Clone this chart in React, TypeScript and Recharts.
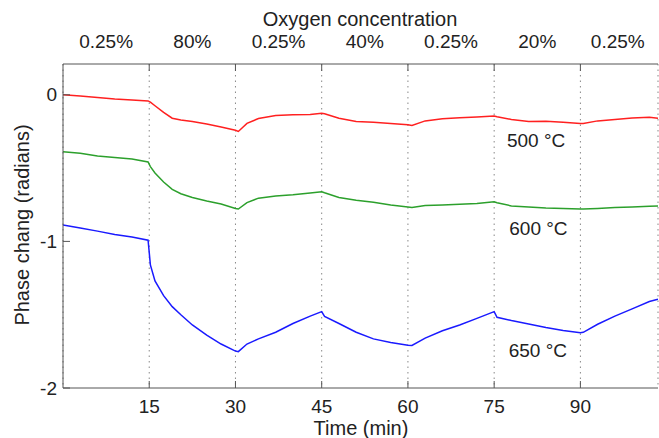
import { LineChart, Line, XAxis, YAxis, CartesianGrid, ReferenceDot } from 'recharts';

// time axis (min)
const times = [
  0, 3, 6, 9, 12, 14.8, 15.2, 16, 17.5, 19, 20.5, 22.5, 25, 27.5, 30, 30.5, 32, 34, 37, 40, 43, 45, 45.5,
  48, 51, 54, 57, 60, 60.7, 63, 66, 69, 72, 75, 75.5, 78, 81, 84, 87, 90, 90.5, 93, 96, 99, 102, 103.5,
];

// phase change (radians) for each temperature
const phase500 = [
  0.0, -0.008, -0.018, -0.028, -0.035, -0.042, -0.05, -0.075, -0.12, -0.16, -0.172, -0.183, -0.2, -0.22, -0.242,
  -0.25, -0.195, -0.162, -0.142, -0.137, -0.135, -0.126, -0.13, -0.16, -0.182, -0.188, -0.196, -0.205, -0.21,
  -0.178, -0.163, -0.157, -0.152, -0.145, -0.15, -0.168, -0.183, -0.18, -0.188, -0.195, -0.195, -0.178, -0.168,
  -0.158, -0.154, -0.16,
];
const phase600 = [
  -0.388, -0.398, -0.418, -0.428, -0.438, -0.458, -0.49, -0.533, -0.595, -0.645, -0.675, -0.7, -0.725, -0.745,
  -0.775, -0.779, -0.735, -0.705, -0.69, -0.682, -0.67, -0.661, -0.668, -0.7, -0.72, -0.733, -0.752, -0.765,
  -0.768, -0.755, -0.752, -0.747, -0.742, -0.73, -0.736, -0.758, -0.765, -0.772, -0.776, -0.779, -0.779, -0.775,
  -0.768, -0.765, -0.76, -0.759,
];
const phase650 = [
  -0.888, -0.908, -0.93, -0.953, -0.97, -0.992, -1.16, -1.27, -1.37, -1.445, -1.5, -1.57, -1.64, -1.7, -1.748,
  -1.752, -1.7, -1.665, -1.62, -1.56, -1.51, -1.479, -1.512, -1.56, -1.62, -1.665, -1.69, -1.708, -1.71, -1.66,
  -1.61, -1.57, -1.525, -1.479, -1.518, -1.54, -1.563, -1.588, -1.608, -1.623, -1.62, -1.565, -1.51, -1.46,
  -1.41, -1.395,
];

const switchTimes = [15, 30, 45, 60, 75, 90];
const concLabels = ['0.25%', '80%', '0.25%', '40%', '0.25%', '20%', '0.25%'];
const concCenters = [7.5, 22.5, 37.5, 52.5, 67.5, 82.5, 96.5];
const yTicks = [0, -1, -2];

const tempLabels = ['500 °C', '600 °C', '650 °C'];
const tempLabelX = [82.3, 82.7, 82.6];
const tempLabelY = [-0.31, -0.91, -1.74];

const data = times.map((t, i) => ({
  t,
  p500: phase500[i],
  p600: phase600[i],
  p650: phase650[i],
}));

const FONT = '"Liberation Sans", Arial, sans-serif';
const AXIS = '#555';
const TEXT = '#222';
const W = 659;
const H = 438;
const TOP = 64;
const BOTTOM_H = 50;
const LEFT = 63;
const TICK = 7;

const BottomTick = (props: any) => {
  const { x, y, payload } = props;
  return (
    <g>
      <line x1={x} x2={x} y1={y} y2={y - TICK} stroke={AXIS} />
      <text x={x} y={y + 25} textAnchor="middle" fontSize={19} fill={TEXT} fontFamily={FONT}>
        {payload.value}
      </text>
    </g>
  );
};

const TopTick = (props: any) => {
  const { x, y, payload } = props;
  if (switchTimes.includes(payload.value)) {
    return <line x1={x} x2={x} y1={y} y2={y + TICK} stroke={AXIS} />;
  }
  const idx = concCenters.indexOf(payload.value);
  return (
    <text x={x} y={y - 16} textAnchor="middle" fontSize={19} fill={TEXT} fontFamily={FONT}>
      {concLabels[idx]}
    </text>
  );
};

const LeftTick = (props: any) => {
  const { x, y, payload } = props;
  return (
    <g>
      <line x1={x} x2={x + TICK} y1={y} y2={y} stroke={AXIS} />
      <text x={x - 6} y={y} dy="0.35em" textAnchor="end" fontSize={19} fill={TEXT} fontFamily={FONT}>
        {payload.value}
      </text>
    </g>
  );
};

export default function App() {
  const topTicks = [...switchTimes, ...concCenters].sort((a, b) => a - b);
  return (
    <div style={{ width: W, height: H, background: '#fff', position: 'relative' }}>
      <style>{'body{margin:0}'}</style>
      <LineChart width={W} height={H} data={data} margin={{ top: 0, right: 1, bottom: 0, left: 0 }}>
        <CartesianGrid vertical horizontal={false} stroke="#888" strokeDasharray="1.5 4" />
        <XAxis
          dataKey="t"
          type="number"
          domain={[0, 103.5]}
          ticks={switchTimes}
          allowDataOverflow
          height={BOTTOM_H}
          tickSize={0}
          tickMargin={0}
          tickLine={false}
          stroke={AXIS}
          tick={<BottomTick />}
          interval={0}
        />
        <XAxis
          xAxisId="top"
          orientation="top"
          type="number"
          dataKey="t"
          domain={[0, 103.5]}
          ticks={topTicks}
          allowDataOverflow
          height={TOP}
          tickSize={0}
          tickMargin={0}
          tickLine={false}
          stroke={AXIS}
          tick={<TopTick />}
          interval={0}
        />
        <YAxis
          type="number"
          domain={[-2, 0.21]}
          ticks={yTicks}
          allowDataOverflow
          width={LEFT}
          tickSize={0}
          tickMargin={0}
          tickLine={false}
          stroke={AXIS}
          tick={<LeftTick />}
          interval={0}
        />
        <Line type="linear" dataKey="p500" stroke="#ff2020" strokeWidth={1.5} dot={false} isAnimationActive={false} />
        <Line type="linear" dataKey="p600" stroke="#2ca02c" strokeWidth={1.5} dot={false} isAnimationActive={false} />
        <Line type="linear" dataKey="p650" stroke="#1a1aff" strokeWidth={1.5} dot={false} isAnimationActive={false} />
        {tempLabels.map((lab, i) => (
          <ReferenceDot
            key={lab}
            x={tempLabelX[i]}
            y={tempLabelY[i]}
            r={0}
            fill="none"
            stroke="none"
            ifOverflow="visible"
            label={{ value: lab, position: 'center', fontSize: 19, fill: TEXT, fontFamily: FONT }}
          />
        ))}
      </LineChart>
      <div
        style={{
          position: 'absolute',
          left: 0,
          top: 0,
          width: W,
          height: H,
          pointerEvents: 'none',
        }}
      >
        <svg width={W} height={H}>
          <text x={360} y={26} textAnchor="middle" fontSize={20} fill={TEXT} fontFamily={FONT}>
            Oxygen concentration
          </text>
          <text x={361} y={435} textAnchor="middle" fontSize={20} fill={TEXT} fontFamily={FONT}>
            Time (min)
          </text>
          <text
            x={29}
            y={225}
            textAnchor="middle"
            fontSize={20}
            fill={TEXT}
            fontFamily={FONT}
            transform="rotate(-90 29 225)"
          >
            Phase chang (radians)
          </text>
        </svg>
      </div>
    </div>
  );
}
